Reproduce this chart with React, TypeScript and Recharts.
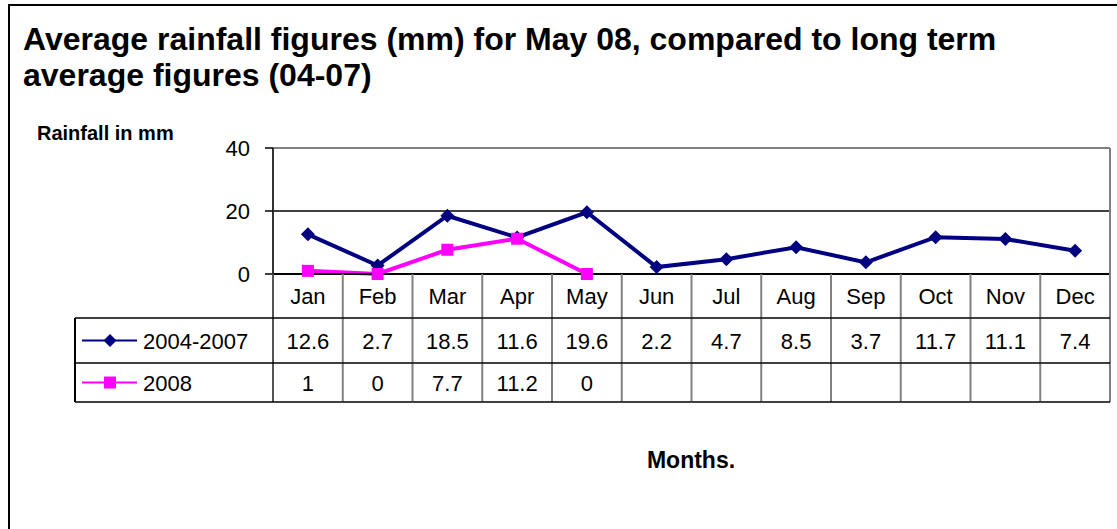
import { LineChart, Line, XAxis, YAxis, ReferenceLine } from "recharts";

const months = ["Jan", "Feb", "Mar", "Apr", "May", "Jun", "Jul", "Aug", "Sep", "Oct", "Nov", "Dec"];
const avg0407 = [12.6, 2.7, 18.5, 11.6, 19.6, 2.2, 4.7, 8.5, 3.7, 11.7, 11.1, 7.4];
const rain2008: (number | null)[] = [1, 0, 7.7, 11.2, 0, null, null, null, null, null, null, null];
const yTicks = [0, 20, 40];

const seriesNames = ["2004-2007", "2008"];
const NAVY = "#000080";
const MAGENTA = "#FF00FF";
const FONT = "'Liberation Sans', Arial, sans-serif";

// plot box (page coords)
const PLOT_LEFT = 273;
const PLOT_RIGHT = 1110;
const PLOT_TOP = 148;
const AXIS_Y = 274;
const ROW1 = 318;
const ROW2 = 363;
const TABLE_BOTTOM = 402;
const TABLE_LEFT = 75;
const COL_W = (PLOT_RIGHT - PLOT_LEFT) / months.length;

const data = months.map((m, i) => ({ month: m, a: avg0407[i], b: rain2008[i] }));

const Diamond = (props: any) => {
  const { cx, cy } = props;
  if (cx == null || cy == null) return <g />;
  const r = 7;
  return <path d={`M${cx},${cy - r}L${cx + r},${cy}L${cx},${cy + r}L${cx - r},${cy}Z`} fill={NAVY} />;
};

const Square = (props: any) => {
  const { cx, cy } = props;
  if (cx == null || cy == null) return <g />;
  const s = 12;
  return <rect x={cx - s / 2} y={cy - s / 2} width={s} height={s} fill={MAGENTA} />;
};

const fmt = (v: number | null) => (v == null ? "" : String(v));

// each x tick draws its whole table column
const ColumnTick = (props: any) => {
  const { x, y, payload, index } = props;
  const l = x - COL_W / 2;
  const r = x + COL_W / 2;
  const i = payload.index ?? index;
  const textStyle = { fontFamily: FONT, fontSize: 22, fill: "#000" };
  return (
    <g>
      {i === 0 && <line x1={l} x2={l} y1={y} y2={TABLE_BOTTOM} stroke="#555" strokeWidth={2} />}
      <line x1={r} x2={r} y1={i === months.length - 1 ? PLOT_TOP : y} y2={TABLE_BOTTOM} stroke="#808080" strokeWidth={2} />
      <line x1={l} x2={r} y1={ROW1} y2={ROW1} stroke="#000" strokeWidth={1.5} />
      <line x1={l} x2={r} y1={ROW2} y2={ROW2} stroke="#000" strokeWidth={1.5} />
      <line x1={l} x2={r} y1={TABLE_BOTTOM} y2={TABLE_BOTTOM} stroke="#000" strokeWidth={1.5} />
      <text x={x} y={y + 30} textAnchor="middle" style={textStyle}>{payload.value}</text>
      <text x={x} y={349} textAnchor="middle" style={textStyle}>{fmt(avg0407[i])}</text>
      <text x={x} y={391} textAnchor="middle" style={textStyle}>{fmt(rain2008[i])}</text>
    </g>
  );
};

const LegendColumn = () => {
  const rows = [
    { y: (ROW1 + ROW2) / 2, color: NAVY, shape: "diamond" },
    { y: (ROW2 + TABLE_BOTTOM) / 2, color: MAGENTA, shape: "square" },
  ];
  return (
    <svg width={1117} height={529} style={{ position: "absolute", left: 0, top: 0, pointerEvents: "none" }}>
      <line x1={TABLE_LEFT} x2={TABLE_LEFT} y1={ROW1} y2={TABLE_BOTTOM} stroke="#000" strokeWidth={2} />
      {[ROW1, ROW2, TABLE_BOTTOM].map((yy) => (
        <line key={yy} x1={TABLE_LEFT} x2={PLOT_LEFT} y1={yy} y2={yy} stroke="#000" strokeWidth={1.5} />
      ))}
      {rows.map((r, k) => (
        <g key={k}>
          <line x1={82} x2={137} y1={r.y} y2={r.y} stroke={r.color} strokeWidth={2} />
          {r.shape === "diamond" ? (
            <path d={`M110,${r.y - 6.5}L116.5,${r.y}L110,${r.y + 6.5}L103.5,${r.y}Z`} fill={r.color} />
          ) : (
            <rect x={104} y={r.y - 6} width={12} height={12} fill={r.color} />
          )}
          <text x={143} y={r.y + 8.5} style={{ fontFamily: FONT, fontSize: 22, fill: "#000" }}>
            {seriesNames[k]}
          </text>
        </g>
      ))}
    </svg>
  );
};

export default function App() {
  return (
    <div style={{ position: "relative", width: 1117, height: 529, overflow: "hidden", background: "#fff", fontFamily: FONT }}>
      <style>{"body{margin:0}"}</style>
      <div
        style={{
          position: "absolute",
          left: 8,
          top: 4,
          width: 1200,
          height: 600,
          borderLeft: "2px solid #000",
          borderTop: "2px solid #000",
        }}
      />
      <div
        style={{
          position: "absolute",
          left: 23,
          top: 21,
          fontSize: 32,
          lineHeight: "36px",
          fontWeight: "bold",
          color: "#000",
          width: 1050,
        }}
      >
        Average rainfall figures (mm) for May 08, compared to long term
        <br />
        average figures (04-07)
      </div>
      <div style={{ position: "absolute", left: 37, top: 121, fontSize: 20, fontWeight: "bold", lineHeight: "24px" }}>
        Rainfall in mm
      </div>
      <div style={{ position: "absolute", left: 591, width: 200, textAlign: "center", top: 446, fontSize: 23, fontWeight: "bold", lineHeight: "28px" }}>
        Months.
      </div>
      <div style={{ position: "absolute", left: 0, top: 0 }}>
        <LineChart
          width={1117}
          height={529}
          data={data}
          margin={{ top: PLOT_TOP, right: 1117 - PLOT_RIGHT, bottom: 529 - AXIS_Y - 128, left: PLOT_LEFT - 60 }}
        >
          <XAxis
            dataKey="month"
            height={128}
            padding={{ left: COL_W / 2, right: COL_W / 2 }}
            tickLine={false}
            tickSize={0}
            tickMargin={0}
            axisLine={{ stroke: "#000", strokeWidth: 2 }}
            tick={<ColumnTick />}
            interval={0}
          />
          <YAxis
            width={60}
            domain={[0, 40]}
            ticks={yTicks}
            tickSize={8}
            tickMargin={15}
            tickLine={{ stroke: "#000", strokeWidth: 1.5 }}
            axisLine={{ stroke: "#333", strokeWidth: 2 }}
            tick={{ fontFamily: FONT, fontSize: 22, fill: "#000" }}
          />
          <ReferenceLine y={20} stroke="#000" strokeWidth={1.5} />
          <ReferenceLine y={40} stroke="#808080" strokeWidth={2} />
          <Line dataKey="a" stroke={NAVY} strokeWidth={4} dot={<Diamond />} isAnimationActive={false} />
          <Line dataKey="b" stroke={MAGENTA} strokeWidth={4} dot={<Square />} isAnimationActive={false} />
        </LineChart>
      </div>
      <LegendColumn />
    </div>
  );
}
